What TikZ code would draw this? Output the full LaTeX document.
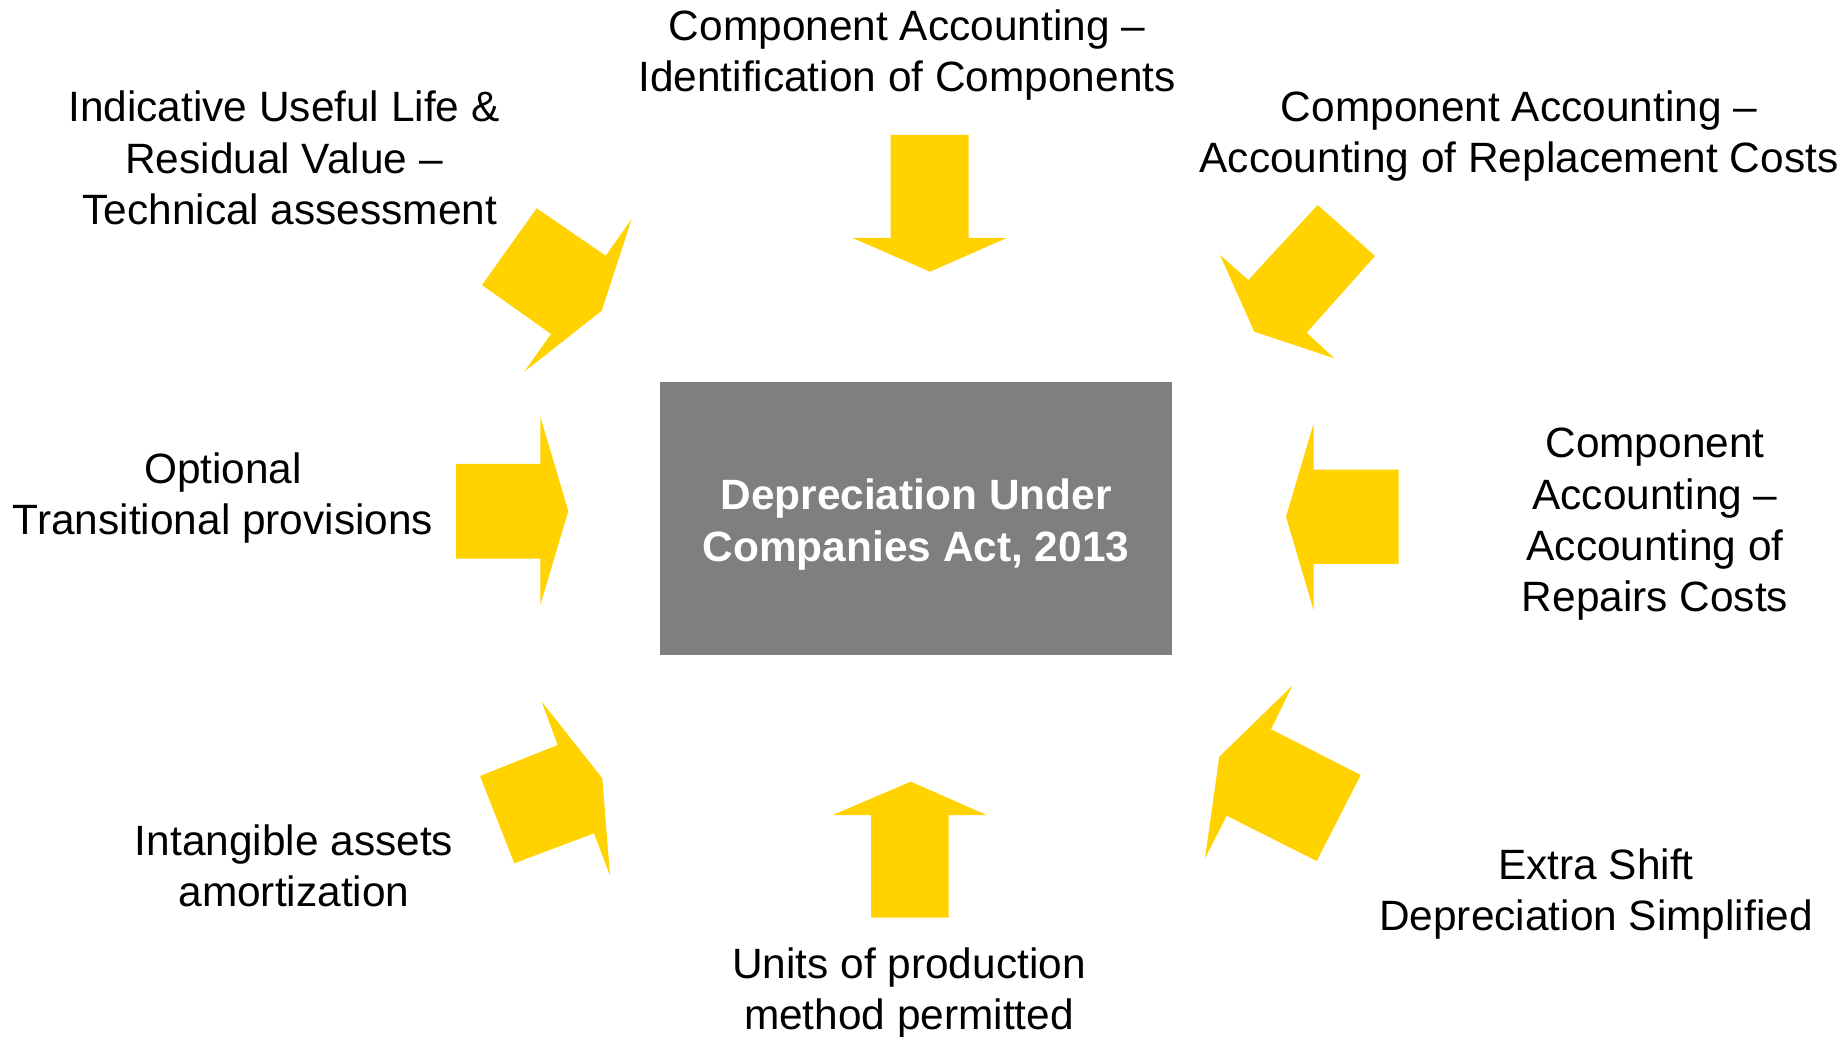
\documentclass[tikz,border=0pt]{standalone}
\usepackage{fontspec}
\setmainfont{Liberation Sans}
\usepackage{tikz}
\usetikzlibrary{positioning}

\definecolor{arrowyellow}{RGB}{255,210,0}
\definecolor{boxgray}{RGB}{127,127,127}

\begin{document}
\begin{tikzpicture}[x=0.5pt,y=-0.5pt]
        \useasboundingbox (0,0) rectangle (1848,1037);
        % centre box
        \node[fill=boxgray,minimum width=255.8pt,minimum height=136.7pt,inner sep=0pt] (act) at (915.7,518.7) {};
        \node[text=white,font=\bfseries\fontsize{21.2}{25.6}\selectfont,align=center,inner sep=0pt] (acttitle) at (916,524.5) {Depreciation Under\\Companies Act, 2013};
        % block arrows pointing in
        \begin{scope}[every path/.style={fill=arrowyellow}]
          \path (890.7,135) -- (968.7,135) -- (968.7,238) -- (1006.7,238) -- (930,271.7) -- (852.7,238) -- (890.7,238) -- cycle;
          \path (871,917.7) -- (948.7,917.7) -- (948.7,815) -- (986.7,815) -- (910.7,781.7) -- (832.7,815) -- (871,815) -- cycle;
          \path (456,464) -- (540.3,464) -- (540.3,416.7) -- (568.3,511) -- (540.3,605) -- (540.3,558.7) -- (456,558.7) -- cycle;
          \path (1398.7,469.7) -- (1313.7,469.7) -- (1313.7,423.3) -- (1286,516.7) -- (1313.7,610.7) -- (1313.7,564) -- (1398.7,564) -- cycle;
          \path (482,285) -- (536.7,208.3) -- (605.7,255.7) -- (631.7,219) -- (601.7,310.7) -- (524.3,371.7) -- (551,334) -- cycle;
          \path (1317.7,205) -- (1375,256) -- (1306.7,332.7) -- (1334.3,358.3) -- (1254.3,331.7) -- (1220,255) -- (1248.3,280) -- cycle;
          \path (480,776) -- (557.7,745) -- (541.7,701.7) -- (602.3,778.3) -- (610,875.7) -- (594,833.3) -- (514.3,863.3) -- cycle;
          \path (1360.7,775) -- (1316.7,861) -- (1226.7,815.7) -- (1205,858.3) -- (1219.3,756.7) -- (1292.3,685.7) -- (1271,729.3) -- cycle;
        \end{scope}
        % labels round the box
        \begin{scope}[every node/.style={align=center,inner sep=0pt,font=\fontsize{21.2}{25.6}\selectfont}]
          \node (ident) at (907,55) {Component Accounting --\\Identification of Components};
          \node (usefullife) at (284,158) {Indicative Useful Life \&\\Residual Value --\\\ Technical assessment};
          \node (replace) at (1519,136) {Component Accounting --\\Accounting of Replacement Costs};
          \node (transition) at (223,498) {Optional\\Transitional provisions};
          \node (repairs) at (1655,524.2) {Component\\Accounting --\\Accounting of\\Repairs Costs};
          \node (intangible) at (294,866) {Intangible assets\\amortization};
          \node (units) at (909,992.9) {Units of production\\method permitted};
          \node (shift) at (1596,894) {Extra Shift\\Depreciation Simplified};
        \end{scope}
      \end{tikzpicture}
\end{document}
